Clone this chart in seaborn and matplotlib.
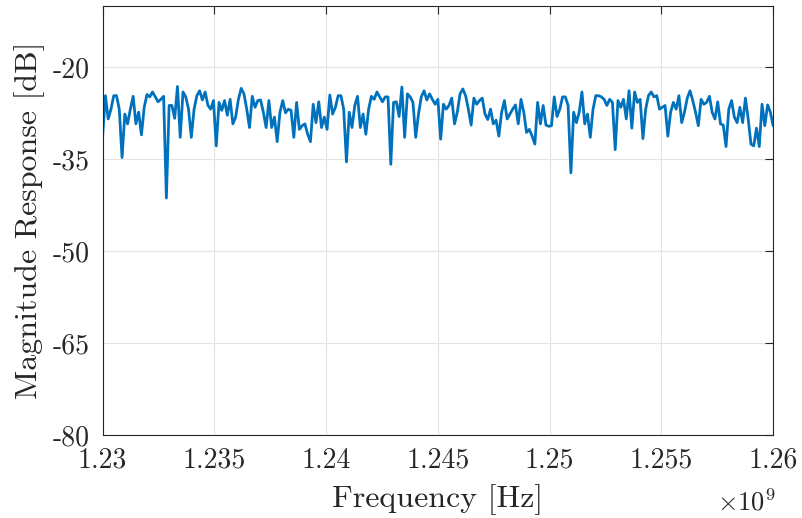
import numpy as np
import seaborn as sns
import matplotlib.pyplot as plt
from matplotlib.ticker import FuncFormatter

# magnitude response, left to right (dB)
mag_db = [
    -31.1, -24.6, -28.4, -26.8, -24.6, -24.6, -26.8, -34.7, -27.6, -29.2,
    -26.8, -24.7, -29.2, -27.3, -31.0, -26.5, -24.4, -24.8, -24.0, -24.8,
    -25.6, -25.2, -24.7, -41.3, -26.2, -26.2, -28.3, -23.1, -31.4, -24.0,
    -24.8, -26.8, -31.4, -26.8, -24.6, -23.8, -25.3, -24.0, -26.2, -26.8,
    -25.4, -32.8, -25.7, -27.0, -25.4, -27.8, -25.2, -29.2, -28.1, -25.2,
    -23.4, -24.3, -26.8, -29.8, -24.7, -26.5, -25.4, -25.3, -27.3, -29.8,
    -25.4, -29.8, -28.1, -32.1, -27.3, -25.4, -27.4, -26.8, -27.0, -31.4,
    -25.7, -30.1, -29.5, -29.2, -30.9, -32.1, -26.0, -29.0, -25.6, -29.8,
    -28.1, -30.1, -24.5, -27.6, -26.5, -24.6, -24.6, -26.8, -35.4, -27.3,
    -29.8, -26.2, -24.7, -29.8, -27.6, -30.9, -26.8, -24.7, -25.2, -24.0,
    -24.8, -25.6, -24.8, -24.8, -35.8, -25.7, -25.6, -28.0, -23.2, -31.4,
    -24.3, -24.8, -25.7, -31.4, -27.6, -24.8, -23.8, -25.3, -24.3, -25.2,
    -26.0, -25.2, -31.7, -26.0, -26.8, -26.2, -25.0, -29.2, -27.3, -24.3,
    -23.5, -24.6, -26.8, -29.4, -25.0, -26.0, -25.4, -25.0, -27.6, -28.5,
    -26.8, -29.2, -28.6, -31.2, -27.3, -25.4, -28.4, -27.6, -26.8, -26.1,
    -29.2, -25.2, -27.3, -30.6, -30.1, -31.2, -32.5, -25.7, -29.2, -26.2,
    -29.4, -29.6, -29.5, -24.8, -28.0, -26.8, -24.8, -24.8, -26.2, -37.2,
    -27.3, -29.0, -27.3, -24.0, -29.2, -27.6, -31.4, -26.8, -24.6, -24.6,
    -24.8, -25.2, -26.2, -25.2, -25.7, -33.4, -25.4, -26.5, -25.2, -28.4,
    -23.8, -29.9, -24.0, -25.7, -25.2, -31.6, -26.8, -24.6, -24.0, -24.8,
    -24.6,
    -26.8, -26.5, -26.2, -31.2, -27.3, -25.7, -26.8, -24.6, -29.0, -27.3,
    -25.0, -23.8, -25.4, -27.3, -29.5, -25.2, -26.0, -25.7, -24.7, -27.3,
    -28.4, -25.6, -29.2, -29.4, -32.9, -26.8, -25.4, -28.1, -29.0, -26.5,
    -29.0, -25.0, -28.4, -32.5, -32.8, -29.9, -32.9, -26.0, -29.5, -26.1,
    -27.3, -29.5,
]
f_start, f_stop = 1.23e9, 1.26e9
freq = np.linspace(f_start, f_stop, len(mag_db))

x_ticks = [1.23e9, 1.235e9, 1.24e9, 1.245e9, 1.25e9, 1.255e9, 1.26e9]
y_ticks = [-80, -65, -50, -35, -20]

sns.set_theme(style='whitegrid')
plt.rcParams['font.family'] = ['cmr10', 'DejaVu Serif']
plt.rcParams['mathtext.fontset'] = 'cm'
plt.rcParams['axes.unicode_minus'] = False
plt.rcParams['axes.formatter.use_mathtext'] = True

fig = plt.figure(figsize=(8.02, 5.18), dpi=100)
ax = fig.add_axes([0.128, 0.160, 0.836, 0.828])

sns.lineplot(x=freq, y=mag_db, color='#0072BD', linewidth=2.0, ax=ax)

ax.set_xlim(f_start, f_stop)
ax.set_ylim(-80, -10)
ax.set_xticks(x_ticks)
ax.set_yticks(y_ticks)
ax.xaxis.set_major_formatter(FuncFormatter(lambda v, p: '%g' % (v / 1e9)))
ax.yaxis.set_major_formatter(FuncFormatter(lambda v, p: '%d' % v))

ax.grid(True, color='#e3e3e3', linewidth=0.8)
ax.set_facecolor('white')
for s in ax.spines.values():
    s.set_color('#262626')
    s.set_linewidth(0.8)
ax.tick_params(direction='in', length=6, width=0.8, color='#262626',
               top=True, right=True, labelsize=20, labelcolor='#262626', pad=9)

ax.set_xlabel('Frequency [Hz]', fontsize=23, color='#262626', labelpad=7)
ax.set_ylabel('Magnitude Response [dB]', fontsize=23, color='#262626', labelpad=6)
ax.text(1.003, -0.125, r'$\times10^9$', transform=ax.transAxes, ha='right', va='top',
        fontsize=19, color='#262626')

plt.savefig('out.png', dpi=100)
